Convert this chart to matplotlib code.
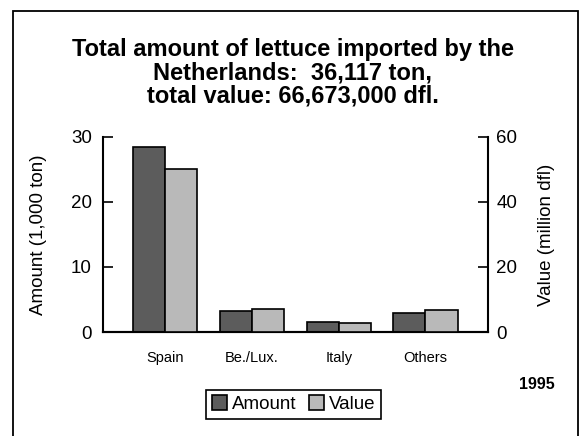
import matplotlib.pyplot as plt
from matplotlib.patches import Rectangle

plt.rcParams['font.family'] = ['Liberation Sans', 'DejaVu Sans']

# data
countries = ['Spain', 'Be./Lux.', 'Italy', 'Others']
amount = [28.4, 3.2, 1.6, 2.9]      # 1,000 ton
value = [50.0, 7.0, 2.8, 6.8]       # million dfl
left_ticks = [0, 10, 20, 30]
right_ticks = [0, 20, 40, 60]

fig = plt.figure(figsize=(5.85, 4.36), dpi=100)
ax = fig.add_axes([0.176, 0.2385, 0.658, 0.4475])
ax2 = ax.twinx()

w = 0.37
x = list(range(len(countries)))
ax.bar([i - w / 2 for i in x], amount, width=w, color='#5c5c5c',
       edgecolor='black', linewidth=1.2, label='Amount', zorder=3)
ax2.bar([i + w / 2 for i in x], value, width=w, color='#b9b9b9',
        edgecolor='black', linewidth=1.2, label='Value', zorder=3)

ax.set_xlim(-0.72, 3.72)
ax.set_ylim(0, 30)
ax2.set_ylim(0, 60)
ax.set_yticks(left_ticks)
ax2.set_yticks(right_ticks)
ax.set_xticks(x)
ax.set_xticklabels(countries, fontsize=10.5)
ax.tick_params(axis='x', length=0, pad=14)
ax.tick_params(axis='y', direction='in', length=7, width=1.2, labelsize=13.5, pad=8)
ax2.tick_params(axis='y', direction='in', length=7, width=1.2, labelsize=13.5, pad=6)

for a in (ax, ax2):
    a.spines['top'].set_visible(False)
    for s in a.spines.values():
        s.set_linewidth(1.5)
ax.spines['right'].set_visible(False)
ax2.spines['left'].set_visible(False)

ax.set_ylabel('Amount (1,000 ton)', fontsize=13.5, labelpad=17)
ax2.set_ylabel('Value (million dfl)', fontsize=13.5, labelpad=15)

fig.text(0.5, 0.833, 'Total amount of lettuce imported by the\n'
         'Netherlands:  36,117 ton,\ntotal value: 66,673,000 dfl.',
         ha='center', va='center', fontsize=17, fontweight='bold',
         linespacing=1.0)

fig.text(0.918, 0.119, '1995', ha='center', va='center',
         fontsize=11.5, fontweight='bold')

h1, l1 = ax.get_legend_handles_labels()
h2, l2 = ax2.get_legend_handles_labels()
leg = fig.legend(h1 + h2, l1 + l2, loc='center', bbox_to_anchor=(0.502, 0.073),
                 ncol=2, fontsize=13.5, fancybox=False, framealpha=1,
                 handlelength=0.8, handleheight=0.8, handletextpad=0.25,
                 columnspacing=0.7, borderpad=0.3)
leg.get_frame().set_edgecolor('black')
leg.get_frame().set_linewidth(1.2)

fig.patches.append(Rectangle((0.022, -0.01), 0.966, 0.985, transform=fig.transFigure,
                             fill=False, edgecolor='black', linewidth=1.3))

fig.savefig('out.png', dpi=100)
